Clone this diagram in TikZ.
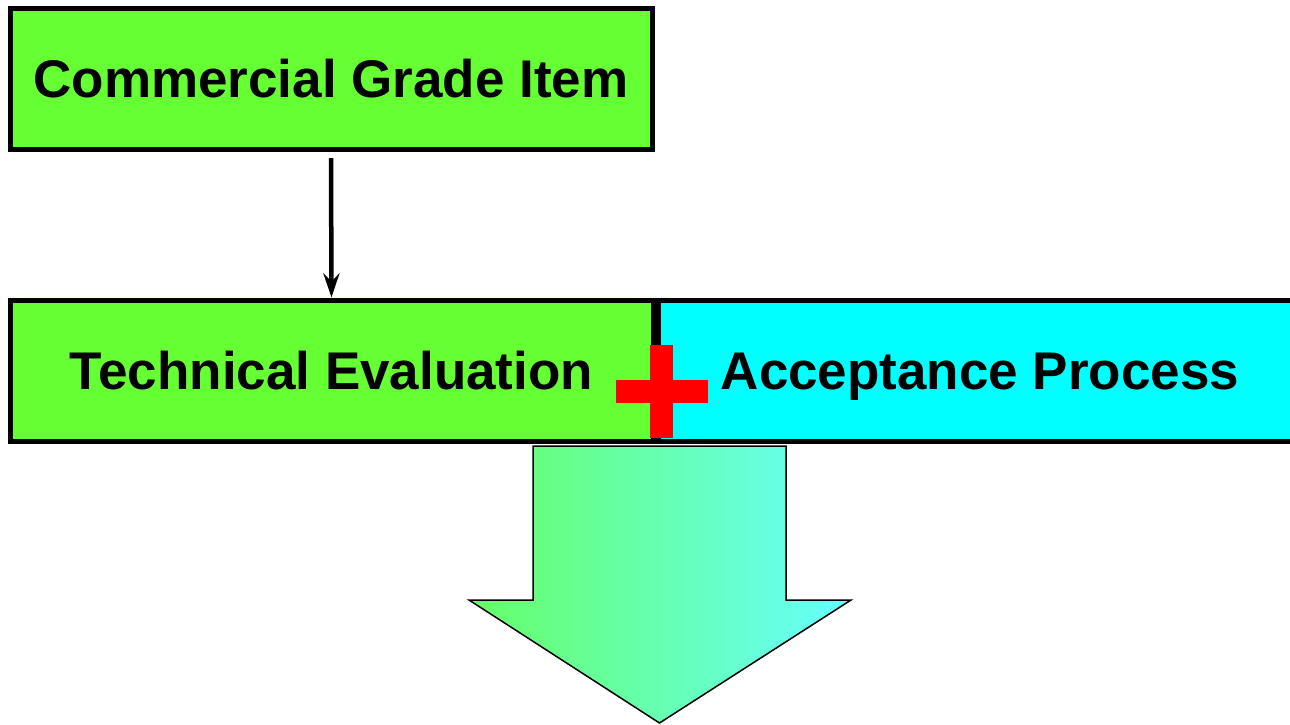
\documentclass[tikz,border=0pt]{standalone}
\usepackage{fontspec}
\setmainfont{Liberation Sans}
\usetikzlibrary{arrows.meta}

\definecolor{boxgreen}{RGB}{102,255,51}
\definecolor{boxcyan}{RGB}{0,255,255}
\definecolor{plusred}{RGB}{255,0,0}
\definecolor{flowleft}{RGB}{102,255,102}
\definecolor{flowright}{RGB}{102,255,255}

\tikzset{
  stagebox/.style={draw=black, line width=5pt, inner sep=0pt,
    text height=38pt, text depth=0pt,
    font=\fontsize{53}{60}\selectfont\bfseries},
  link/.style={draw=black, line width=4.5pt,
    -{Stealth[length=24pt,width=16pt,inset=8pt]}},
  flow/.style={draw=black, line width=1.5pt, line join=miter,
    left color=flowleft, right color=flowright}
}

\begin{document}
\begin{tikzpicture}[x=1pt, y=-1pt]
  \useasboundingbox (0,0) rectangle (1290,724);
  \clip (0,0) rectangle (1290,724);

  % item box at the top
  \node[stagebox, fill=boxgreen, minimum width=642pt, minimum height=141pt]
    (item) at (331,78.5) {Commercial Grade Item};

  % evaluation and acceptance boxes side by side
  \node[stagebox, fill=boxgreen, minimum width=643pt, minimum height=141pt]
    (tech) at (331.5,370.5) {Technical Evaluation};
  \node[stagebox, fill=boxcyan, minimum width=644pt, minimum height=141pt]
    (accept) at (980,370.5) {Acceptance Process};

  % connector from the item to the evaluation
  \draw[link] ([yshift=-6.5pt]item.south) -- (tech.north);

  % red plus joining the two stages
  \fill[plusred] (650,345) rectangle (673,437.5);
  \fill[plusred] (616,380) rectangle (708,403);

  % broad block arrow leading downwards
  \path[flow] (533,446) -- (786,446) -- (786,600) -- (851,600)
    -- (659.5,723) -- (469,600) -- (533,600) -- cycle;
\end{tikzpicture}
\end{document}
